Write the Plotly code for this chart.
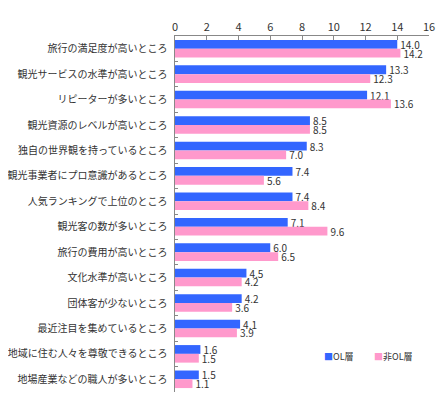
import plotly.graph_objects as go

# categories (top to bottom) and the two series
categories = [
    "旅行の満足度が高いところ",
    "観光サービスの水準が高いところ",
    "リピーターが多いところ",
    "観光資源のレベルが高いところ",
    "独自の世界観を持っているところ",
    "観光事業者にプロ意識があるところ",
    "人気ランキングで上位のところ",
    "観光客の数が多いところ",
    "旅行の費用が高いところ",
    "文化水準が高いところ",
    "団体客が少ないところ",
    "最近注目を集めているところ",
    "地域に住む人々を尊敬できるところ",
    "地場産業などの職人が多いところ",
]
ol_values = [14.0, 13.3, 12.1, 8.5, 8.3, 7.4, 7.4, 7.1, 6.0, 4.5, 4.2, 4.1, 1.6, 1.5]
non_ol_values = [14.2, 12.3, 13.6, 8.5, 7.0, 5.6, 8.4, 9.6, 6.5, 4.2, 3.6, 3.9, 1.5, 1.1]
x_ticks = [0, 2, 4, 6, 8, 10, 12, 14, 16]
series_names = ["OL層", "非OL層"]
series_colors = ["#3366FF", "#FF99CC"]

font_family = "Noto Sans CJK JP, sans-serif"

fig = go.Figure()
for name, vals, col in zip(series_names, [ol_values, non_ol_values], series_colors):
    fig.add_bar(y=categories, x=vals, name=name, orientation="h",
                marker=dict(color=col, line=dict(width=0)),
                texttemplate="%{x:.1f}", textposition="outside",
                constraintext="none",
                textfont=dict(size=10, color="#333333"), cliponaxis=False)

# small legend drawn as text next to the bars (like the original)
for i, (name, col) in enumerate(zip(series_names, series_colors)):
    fig.add_annotation(xref="paper", yref="paper", x=0.58 + i * 0.195, y=0.1,
                       xanchor="left", yanchor="middle", showarrow=False,
                       text=f"<span style='color:{col}'>■</span>{name}",
                       font=dict(size=9, color="#333333"))

# page body has an 8px margin; keep the figure (and the "16" label) inside the window
fig.update_layout(
    width=436, height=384,
    margin=dict(l=167, r=15, t=28, b=0),
    paper_bgcolor="white", plot_bgcolor="white",
    font=dict(family=font_family, size=11, color="#333333"),
    barmode="group", bargap=0.31, bargroupgap=0,
    showlegend=False,
)
fig.update_xaxes(side="top", range=[0, 16], tickvals=x_ticks, ticks="inside",
                 ticklen=4, tickcolor="#888888", showline=True, linecolor="#888888",
                 showgrid=False, zeroline=False, tickfont=dict(size=11),
                 ticklabeloverflow="allow", automargin=False)
fig.update_yaxes(autorange="reversed", ticks="inside", tickson="boundaries",
                 ticklen=3, tickcolor="#888888", showline=True, linecolor="#888888",
                 showgrid=False, tickfont=dict(size=10), ticksuffix="  ",
                 automargin=False)

fig.write_html("out.html")
